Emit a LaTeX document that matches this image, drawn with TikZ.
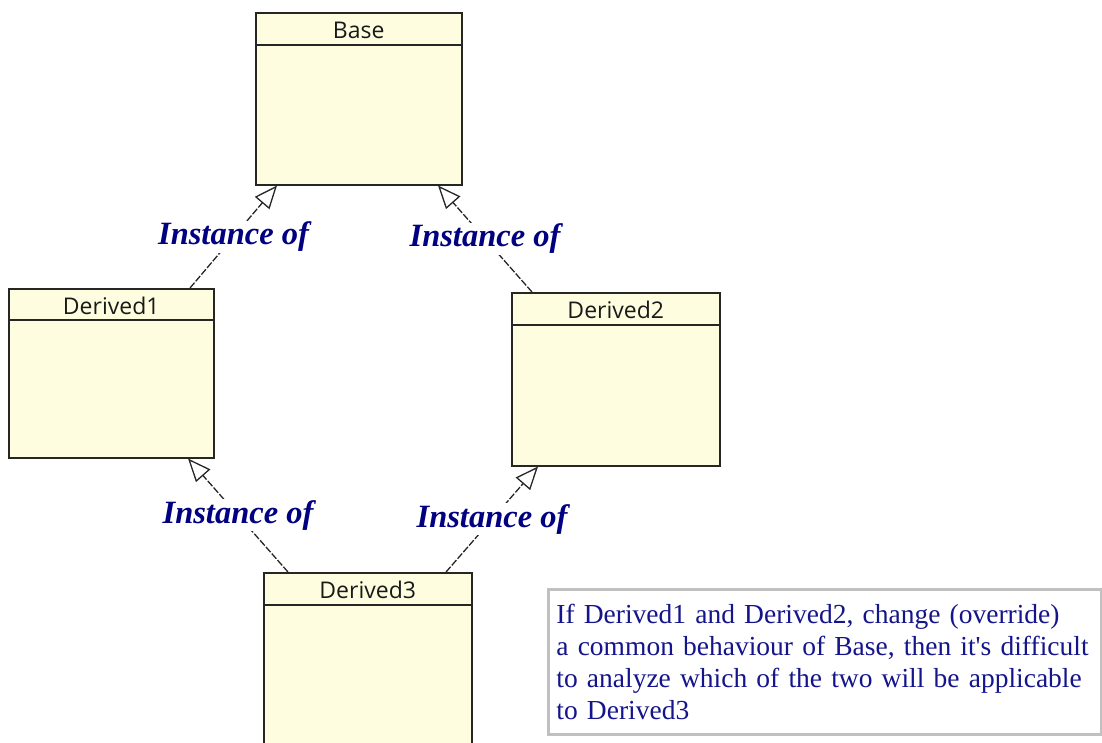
\documentclass[tikz,border=0pt]{standalone}
\usepackage{fontspec}
\setmainfont{Liberation Serif}
\newfontfamily\uifont{Open Sans}
\usetikzlibrary{arrows.meta,calc}

\definecolor{classfill}{RGB}{255,253,224}
\definecolor{labelblue}{RGB}{0,0,128}
\definecolor{notetext}{RGB}{20,20,140}
\definecolor{noteborder}{RGB}{192,192,192}

\tikzset{
  classbox/.style={draw=black!85, line width=1.5pt, fill=classfill, anchor=north west, inner sep=0pt},
  headerline/.style={line width=1.5pt, draw=black!85},
  classname/.style={font=\uifont\fontsize{23}{26}\selectfont, text=black!90, inner sep=0pt},
  instanceof/.style={draw=black!85, line width=1.3pt, dash pattern=on 7pt off 1.8pt,
    -{Triangle[open, length=23pt, width=19pt, line width=1.3pt]}},
  rellabel/.style={font=\fontsize{32.5}{36}\selectfont\bfseries\itshape, text=labelblue,
    fill=white, inner xsep=2pt, inner ysep=1pt},
  notebox/.style={draw=noteborder, line width=2.8pt, fill=white, anchor=north west,
    minimum width=553pt, minimum height=145pt, text width=537pt, inner xsep=8pt,
    align=left, text=notetext, font=\fontsize{27.5}{32}\selectfont}
}

\begin{document}
\begin{tikzpicture}[x=1pt, y=-1pt]
  \useasboundingbox (0,0) rectangle (1102,742);

  % class boxes
  \node[classbox, minimum width=206pt, minimum height=172pt] (base) at (255,12) {};
  \node[classbox, minimum width=205pt, minimum height=169pt] (d1) at (8,288) {};
  \node[classbox, minimum width=208pt, minimum height=173pt] (d2) at (511,292) {};
  \node[classbox, minimum width=208pt, minimum height=190pt] (d3) at (263,572) {};

  % header separators
  \draw[headerline] ([yshift=-33pt]base.north west) -- ([yshift=-33pt]base.north east);
  \draw[headerline] ([yshift=-32pt]d1.north west) -- ([yshift=-32pt]d1.north east);
  \draw[headerline] ([yshift=-33pt]d2.north west) -- ([yshift=-33pt]d2.north east);
  \draw[headerline] ([yshift=-33pt]d3.north west) -- ([yshift=-33pt]d3.north east);

  % class names
  \node[classname] (basename) at ([yshift=-18pt]base.north) {Base};
  \node[classname] (d1name) at ([yshift=-18pt]d1.north) {Derived1};
  \node[classname] (d2name) at ([yshift=-18pt]d2.north) {Derived2};
  \node[classname] (d3name) at ([yshift=-18pt]d3.north) {Derived3};

  % attachment points on the box borders
  \coordinate (d1top) at ([xshift=182pt]d1.north west);
  \coordinate (d1bot) at ([xshift=180pt]d1.south west);
  \coordinate (d2top) at ([xshift=21pt]d2.north west);
  \coordinate (d2bot) at ([xshift=27pt]d2.south west);
  \coordinate (d3left) at ([xshift=25pt]d3.north west);
  \coordinate (d3right) at ([xshift=183pt]d3.north west);
  \coordinate (baseleft) at ([xshift=22pt]base.south west);
  \coordinate (baseright) at ([xshift=183pt]base.south west);

  % generalisation connectors
  \draw[instanceof] (d1top) -- node[rellabel] (l1) {Instance of} (baseleft);
  \draw[instanceof] (d2top) -- node[rellabel] (l2) {Instance of} (baseright);
  \draw[instanceof] (d3left) -- node[rellabel] (l3) {Instance of} (d1bot);
  \draw[instanceof] (d3right) -- node[rellabel] (l4) {Instance of} (d2bot);

  % note
  \node[notebox] (note) at (547,588) {If Derived1 and Derived2, change (override)\\
    a common behaviour of Base, then it\textquotesingle s difficult\\
    to analyze which of the two will be applicable\\
    to Derived3};
\end{tikzpicture}
\end{document}
